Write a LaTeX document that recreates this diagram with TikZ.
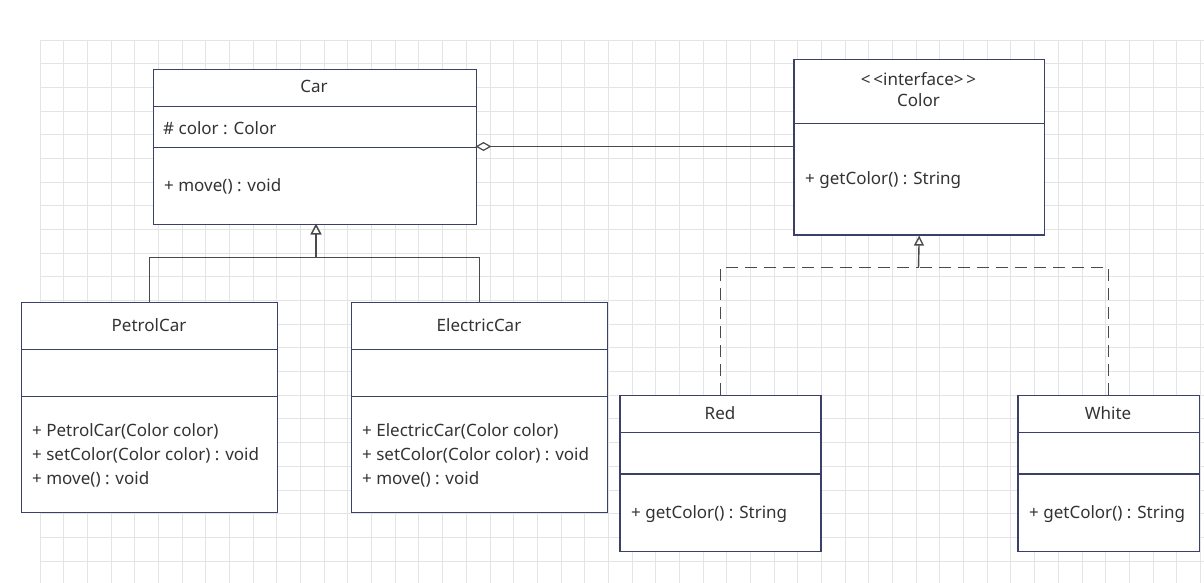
\documentclass[tikz,border=0pt]{standalone}
\usepackage{fontspec}
\setmainfont{Noto Sans}
\usetikzlibrary{arrows.meta}
\definecolor{bordercol}{HTML}{3A4068}
\definecolor{txtcol}{HTML}{333333}
\definecolor{linecol}{HTML}{4A4A4A}
\definecolor{gridcol}{HTML}{E4E4E4}
\tikzset{
  umlbox/.style={draw=bordercol, line width=1.3pt, fill=white, rectangle, anchor=north west, inner sep=0pt},
  divider/.style={draw=bordercol, line width=1.3pt},
  lbl/.style={text=txtcol, font=\fontsize{17}{21}\selectfont, inner sep=0pt},
  conn/.style={draw=linecol, line width=1.4pt},
  dashconn/.style={draw=linecol, line width=1.4pt, dash pattern=on 12pt off 7pt},
}
\begin{document}
\begin{tikzpicture}[x=1pt, y=-1pt]
\useasboundingbox (0,0) rectangle (1204,583);
\fill[white] (0,0) rectangle (1204,583);
% grid
\foreach \k in {0,...,49} {
  \draw[gridcol, line width=0.8pt] ({40+\k*23.68},40) -- ({40+\k*23.68},583);
}
\foreach \k in {0,...,22} {
  \draw[gridcol, line width=0.8pt] (40,{40+\k*23.68}) -- (1204,{40+\k*23.68});
}

% Car
\node[umlbox, minimum width=323pt, minimum height=154.5pt] (car) at (152.5,69) {};
\draw[divider] ([yshift=-37.3pt]car.north west) -- ([yshift=-37.3pt]car.north east);
\draw[divider] ([yshift=-78.3pt]car.north west) -- ([yshift=-78.3pt]car.north east);
\node[lbl] (cartitle) at (314,86) {Car};
\node[lbl, anchor=west] (carattr) at (163,128) {\# color : Color};
\node[lbl, anchor=west] (carop) at (164,186) {+ move() : void};

% Color interface
\node[umlbox, minimum width=250.5pt, minimum height=175.5pt] (iface) at (793.3,58.8) {};
\draw[divider] ([yshift=-64.6pt]iface.north west) -- ([yshift=-64.6pt]iface.north east);
\node[lbl, align=center] (ifacetitle) at (918.5,90) {\mbox{<}\,\mbox{<}interface\mbox{>}\,\mbox{>}\\Color};
\node[lbl, anchor=west] (ifaceop) at (805,180) {+ getColor() : String};

% PetrolCar
\node[umlbox, minimum width=256pt, minimum height=210pt] (petrol) at (21,301.7) {};
\draw[divider] ([yshift=-47.6pt]petrol.north west) -- ([yshift=-47.6pt]petrol.north east);
\draw[divider] ([yshift=-95pt]petrol.north west) -- ([yshift=-95pt]petrol.north east);
\node[lbl] (petroltitle) at (149,325) {PetrolCar};
\node[lbl, anchor=west] (petrolop1) at (32,431) {+ PetrolCar(Color color)};
\node[lbl, anchor=west] (petrolop2) at (32,455) {+ setColor(Color color) : void};
\node[lbl, anchor=west] (petrolop3) at (32,479) {+ move() : void};

% ElectricCar
\node[umlbox, minimum width=256pt, minimum height=210pt] (electric) at (351,301.7) {};
\draw[divider] ([yshift=-47.6pt]electric.north west) -- ([yshift=-47.6pt]electric.north east);
\draw[divider] ([yshift=-95pt]electric.north west) -- ([yshift=-95pt]electric.north east);
\node[lbl] (electrictitle) at (479,325) {ElectricCar};
\node[lbl, anchor=west] (electricop1) at (362,431) {+ ElectricCar(Color color)};
\node[lbl, anchor=west] (electricop2) at (362,455) {+ setColor(Color color) : void};
\node[lbl, anchor=west] (electricop3) at (362,479) {+ move() : void};

% Red
\node[umlbox, minimum width=201pt, minimum height=155.5pt] (red) at (619.3,395) {};
\draw[divider] ([yshift=-37.5pt]red.north west) -- ([yshift=-37.5pt]red.north east);
\draw[divider] ([yshift=-79pt]red.north west) -- ([yshift=-79pt]red.north east);
\node[lbl] (redtitle) at (720,413.5) {Red};
\node[lbl, anchor=west] (redop) at (631,514.5) {+ getColor() : String};

% White
\node[umlbox, minimum width=181.5pt, minimum height=155.5pt] (white) at (1017.2,395) {};
\draw[divider] ([yshift=-37.5pt]white.north west) -- ([yshift=-37.5pt]white.north east);
\draw[divider] ([yshift=-79pt]white.north west) -- ([yshift=-79pt]white.north east);
\node[lbl] (whitetitle) at (1108,413.5) {White};
\node[lbl, anchor=west] (whiteop) at (1029,514.5) {+ getColor() : String};

% aggregation
\coordinate (aggL) at (475.5,146.5);
\coordinate (aggR) at (793.3,146.5);
\draw[conn, {Diamond[open, length=16pt, width=9pt, line width=1.2pt]}-] (aggL) -- (aggR);

% inheritance
\coordinate (inhj) at (316,257.7);
\coordinate (inhtop) at (316,223.5);
\draw[conn] (petrol.north) |- (inhj);
\draw[conn] (electric.north) |- (inhj);
\draw[conn, line width=1.8pt, -{Triangle[open, length=11pt, width=11pt, line width=1.5pt]}] (inhj) -- (inhtop);

% realization
\coordinate (realj) at (918.5,267.7);
\draw[dashconn] (red.north) |- (realj);
\draw[dashconn] (white.north) |- (realj);
\draw[conn, -{Triangle[open, length=10pt, width=10pt, line width=1.4pt]}] (realj) -- (iface.south);
\end{tikzpicture}
\end{document}
